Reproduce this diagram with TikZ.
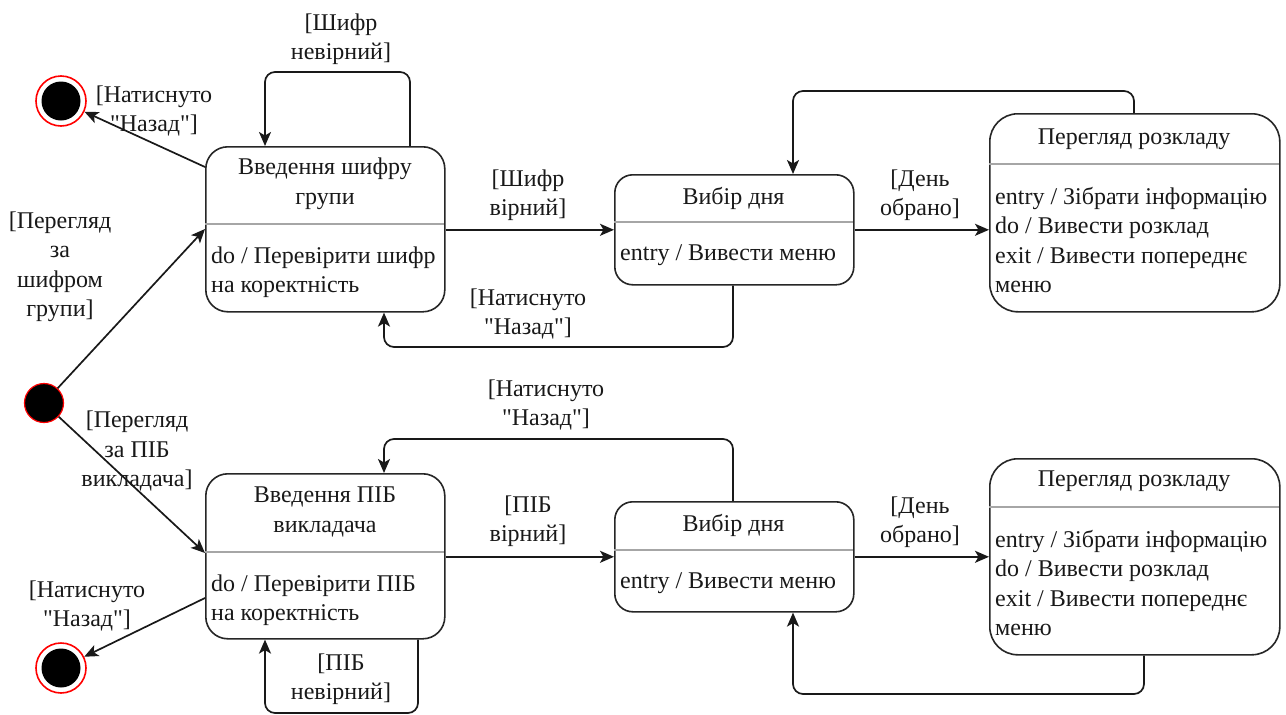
\documentclass[tikz,border=0pt]{standalone}
\usepackage{fontspec}
\setmainfont{Liberation Serif}[Ligatures=TeXOff]
\usetikzlibrary{arrows.meta}
\begin{document}
\begin{tikzpicture}[x=1pt,y=-1pt,
  every node/.style={font=\fontsize{24}{29.5}\selectfont, text=black!90},
  stbox/.style={draw=black!85, line width=1.6pt, rounded corners=#1, anchor=north west, inner sep=0pt},
  stbox/.default=20pt,
  divider/.style={draw=black!35, line width=1.6pt},
  conn/.style={draw=black!90, line width=1.7pt, rounded corners=10pt,
    -{Stealth[length=14pt,width=12pt,inset=3.5pt]}},
  lbl/.style={align=center, inner sep=0pt},
  body/.style={align=left, anchor=west, inner sep=0pt},
  title/.style={align=center, inner sep=0pt},
  initst/.style={circle, fill=black, draw=red, line width=1.2pt, minimum size=39pt, inner sep=0pt},
  finst/.style={circle, fill=white, draw=red, line width=1.6pt, minimum size=50pt, inner sep=0pt},
  findot/.style={circle, fill=black, minimum size=39pt, inner sep=0pt}
]
\useasboundingbox (0,0) rectangle (1286,715);
\fill[white] (0,0) rectangle (1286,715);

% ---------- states, top row ----------
\node[stbox=22pt, minimum width=239pt, minimum height=165pt] (A) at (205,146) {};
\draw[divider] (205,224) -- (444,224);
\node[title] (At) at (325,184) {Введення шифру\\групи};
\node[body] (Ab) at (211,272) {do / Перевірити шифр\\на коректність};

\node[stbox=18pt, minimum width=239pt, minimum height=110pt] (B) at (614,174) {};
\draw[divider] (614,222) -- (853,222);
\node[title] (Bt) at (733.5,198) {Вибір дня};
\node[body] (Bb) at (620,255) {entry / Вивести меню};

\node[stbox=28pt, minimum width=290pt, minimum height=198pt] (C) at (989,113) {};
\draw[divider] (989,164) -- (1279,164);
\node[title] (Ct) at (1134,139) {Перегляд розкладу};
\node[body] (Cb) at (995,240) {entry / Зібрати інформацію\\do / Вивести розклад\\exit / Вивести попереднє\\меню};

% ---------- states, bottom row ----------
\node[stbox=22pt, minimum width=239pt, minimum height=165pt] (D) at (205,473) {};
\draw[divider] (205,552) -- (444,552);
\node[title] (Dt) at (325,512) {Введення ПІБ\\викладача};
\node[body] (Db) at (211,600) {do / Перевірити ПІБ\\на коректність};

\node[stbox=18pt, minimum width=239pt, minimum height=110pt] (E) at (614,501) {};
\draw[divider] (614,550) -- (853,550);
\node[title] (Et) at (733.5,525) {Вибір дня};
\node[body] (Eb) at (620,583) {entry / Вивести меню};

\node[stbox=28pt, minimum width=290pt, minimum height=196pt] (F) at (989,458) {};
\draw[divider] (989,507) -- (1279,507);
\node[title] (Ft) at (1134,481) {Перегляд розкладу};
\node[body] (Fb) at (995,583) {entry / Зібрати інформацію\\do / Вивести розклад\\exit / Вивести попереднє\\меню};

% ---------- pseudo states ----------
\node[initst] (init) at (44,403) {};
\node[finst] (fin1) at (61,101) {};
\node[findot] (fin1d) at (61,101) {};
\node[finst] (fin2) at (61,668) {};
\node[findot] (fin2d) at (61,668) {};

% ---------- helper coordinates ----------
\coordinate (a1) at (410,72);
\coordinate (a2) at (265,72);
\coordinate (c1) at (1134,91);
\coordinate (c2) at (793,91);
\coordinate (b1) at (733,347);
\coordinate (b2) at (384,347);
\coordinate (e1) at (733,439);
\coordinate (e2) at (384,439);
\coordinate (d1) at (418,713);
\coordinate (d2) at (265,713);
\coordinate (f1) at (1144,694);
\coordinate (f2) at (793,694);

% ---------- transitions ----------
\draw[conn] (A.north -| a1) -- (a1) -- (a2) -- (A.north -| a2);
\draw[conn] ([yshift=-21pt]A.north west) -- (fin1);
\draw[conn] (init) -- ([yshift=-83pt]A.north west);
\draw[conn] (A.east |- B.west) -- (B.west);
\draw[conn] (B.east) -- (B.east -| C.west);
\draw[conn] (C.north -| c1) -- (c1) -- (c2) -- (B.north -| c2);
\draw[conn] (B.south -| b1) -- (b1) -- (b2) -- (A.south -| b2);

\draw[conn] (init) -- ([yshift=-80pt]D.north west);
\draw[conn] ([yshift=-125pt]D.north west) -- (fin2);
\draw[conn] (D.east |- E.west) -- (E.west);
\draw[conn] (E.east) -- (E.east -| F.west);
\draw[conn] (E.north -| e1) -- (e1) -- (e2) -- (D.north -| e2);
\draw[conn] (D.south -| d1) -- (d1) -- (d2) -- (D.south -| d2);
\draw[conn] (F.south -| f1) -- (f1) -- (f2) -- (E.south -| f2);

% ---------- labels ----------
\node[lbl] (l1) at (341,39) {[Шифр\\невірний]};
\node[lbl] (l2) at (154,111) {[Натиснуто\\"Назад"]};
\node[lbl] (l3) at (60,267) {[Перегляд\\за\\шифром\\групи]};
\node[lbl] (l4) at (528,195) {[Шифр\\вірний]};
\node[lbl] (l5) at (528,314) {[Натиснуто\\"Назад"]};
\node[lbl] (l6) at (920,195) {[День\\обрано]};
\node[lbl] (l7) at (546,405) {[Натиснуто\\"Назад"]};
\node[lbl] (l8) at (137,451) {[Перегляд\\за ПІБ\\викладача]};
\node[lbl] (l9) at (528,521) {[ПІБ\\вірний]};
\node[lbl] (l10) at (920,522) {[День\\обрано]};
\node[lbl] (l11) at (87,606) {[Натиснуто\\"Назад"]};
\node[lbl] (l12) at (341,679) {[ПІБ\\невірний]};
\end{tikzpicture}
\end{document}
